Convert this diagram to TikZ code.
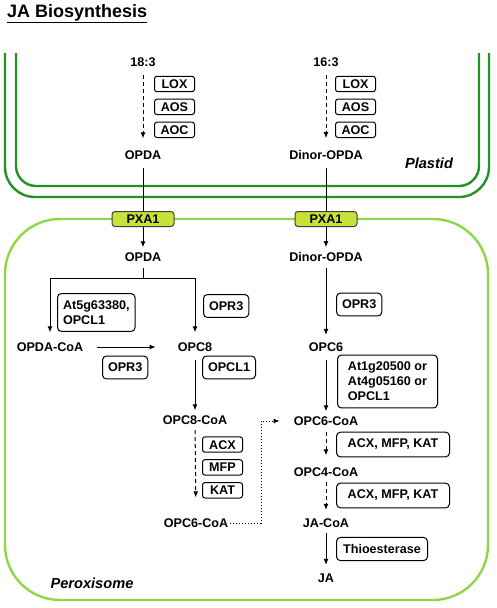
\documentclass[tikz,border=0pt]{standalone}
\usepackage{fontspec}
\setmainfont{Liberation Sans}
\usetikzlibrary{positioning,arrows.meta}
\definecolor{plastidgreen}{RGB}{36,146,36}
\definecolor{peroxgreen}{RGB}{143,214,72}
\definecolor{pxafill}{RGB}{200,226,58}
\begin{document}
\begin{tikzpicture}[x=1pt, y=-1pt,
		met/.style={font=\bfseries\fontsize{12.6}{15}\selectfont, inner sep=2pt},
		enzsmall/.style={met, draw, rounded corners=2.5pt, line width=1pt, minimum width=40pt, text height=9pt, text depth=0pt, inner ysep=3.2pt},
		enzbox/.style={met, draw, rounded corners=4pt, line width=1pt, inner xsep=5.5pt, inner ysep=7pt, align=left, anchor=west},
		pxa/.style={met, draw=black!75, fill=pxafill, rounded corners=3pt, line width=1pt, minimum width=62pt, minimum height=15pt, inner sep=0pt},
		place/.style={font=\bfseries\itshape\fontsize{14.6}{17}\selectfont},
		conv/.style={line width=1pt, -{Latex[length=6pt,width=5pt]}},
		multi/.style={conv, dash pattern=on 4pt off 3pt},
		xfer/.style={conv, dotted},
		membrane/.style={line width=2.4pt}]
	\useasboundingbox (0,0) rectangle (496,608);
	\node[font=\bfseries\fontsize{18}{20}\selectfont, anchor=base west, inner sep=0pt] (title) at (7,17) {\underline{JA Biosynthesis}};

	\draw[membrane, plastidgreen, rounded corners=30pt] (5,53) -- (5,197) -- (489,197) -- (489,53);
	\draw[membrane, plastidgreen, rounded corners=20pt] (16,53) -- (16,186) -- (479,186) -- (479,53);
	\draw[membrane, peroxgreen, rounded corners=55pt] (5,219) rectangle (488,600);
	\node[place] (plastid) at (429,163) {Plastid};
	\node[place] (perox) at (92,583) {Peroxisome};

	\node[met] (fa18) at (143,62) {18:3};
	\node[met] (fa16) at (326,62) {16:3};
	\node[enzsmall, anchor=west] (lox1) at (154,84) {LOX};
	\node[enzsmall, below=6.5pt of lox1] (aos1) {AOS};
	\node[enzsmall, below=6.5pt of aos1] (aoc1) {AOC};
	\node[enzsmall, anchor=west] (lox2) at (335,84) {LOX};
	\node[enzsmall, below=6.5pt of lox2] (aos2) {AOS};
	\node[enzsmall, below=6.5pt of aos2] (aoc2) {AOC};
	\node[met] (opdaP) at (143,155) {OPDA};
	\node[met] (dinorP) at (326,155) {Dinor-OPDA};

	\node[pxa] (pxaL) at (143,219) {PXA1};
	\node[pxa] (pxaR) at (326,219) {PXA1};

	\node[met] (opda) at (143,257) {OPDA};
	\node[met] (dinor) at (326,257) {Dinor-OPDA};
	\coordinate (fork) at (143,278);
	\node[met] (opdacoa) at (50,347) {OPDA-CoA};
	\node[met] (opc8) at (195,347) {OPC8};
	\node[met] (opc6) at (326,347) {OPC6};
	\node[met] (opc8coa) at (195,420) {OPC8-CoA};
	\node[met] (opc6coaL) at (196,523) {OPC6-CoA};
	\node[met] (opc6coa) at (326,421) {OPC6-CoA};
	\node[met] (opc4coa) at (326,472) {OPC4-CoA};
	\node[met] (jacoa) at (326,523) {JA-CoA};
	\node[met] (ja) at (326,578) {JA};
	\coordinate (jog) at (261,470);

	\node[enzbox] (opcl1a) at (57,312.5) {At5g63380,\\OPCL1};
	\node[enzbox] (opr3a) at (203,306) {OPR3};
	\node[enzbox] (opr3b) at (102,367.5) {OPR3};
	\node[enzbox] (opcl1b) at (202,367.5) {OPCL1};
	\node[enzsmall, anchor=west] (acx) at (202,444.5) {ACX};
	\node[enzsmall, below=6.5pt of acx] (mfp) {MFP};
	\node[enzsmall, below=6.5pt of mfp] (kat) {KAT};
	\node[enzbox] (opr3c) at (336,304.5) {OPR3};
	\node[enzbox, minimum width=100pt] (opcl1c) at (337,381.5) {At1g20500 or\\At4g05160 or\\OPCL1};
	\node[enzbox, minimum width=113pt, align=center] (beta1) at (336,444.5) {ACX, MFP, KAT};
	\node[enzbox, minimum width=113pt, align=center] (beta2) at (336,495.5) {ACX, MFP, KAT};
	\node[enzbox, minimum width=91pt, align=center] (thio) at (336,549) {Thioesterase};

	\draw[multi, shorten <=6pt, shorten >=10pt] (fa18) -- (opdaP);
	\draw[multi, shorten <=6pt, shorten >=10pt] (fa16) -- (dinorP);
	\draw[line width=1pt, shorten <=6pt] (opdaP) -- (pxaL);
	\draw[line width=1pt, shorten <=6pt] (dinorP) -- (pxaR);
	\draw[conv, shorten >=3pt] (pxaL) -- (opda);
	\draw[conv, shorten >=3pt] (pxaR) -- (dinor);
	\draw[line width=1pt, shorten <=4pt] (opda) -- (fork);
	\draw[conv, shorten >=8pt] (fork) -| (opdacoa);
	\draw[conv, shorten >=8pt] (fork) -| (opc8);
	\draw[conv, shorten <=12pt, shorten >=20pt] (opdacoa) -- (opc8);
	\draw[conv, shorten <=6pt, shorten >=3pt] (opc8) -- (opc8coa);
	\draw[multi, shorten <=3.5pt, shorten >=19pt] (opc8coa) -- (opc6coaL);
	\draw[xfer, shorten >=12pt] (opc6coaL) -- (jog |- opc6coaL) -- (jog |- opc6coa) -- (opc6coa);
	\draw[conv, shorten <=4pt, shorten >=5.5pt] (dinor) -- (opc6);
	\draw[conv, shorten <=6pt, shorten >=3pt] (opc6) -- (opc6coa);
	\draw[multi, shorten <=4.5pt, shorten >=10pt] (opc6coa) -- (opc4coa);
	\draw[multi, shorten <=3.5pt, shorten >=6.5pt] (opc4coa) -- (jacoa);
	\draw[conv, shorten <=3.5pt, shorten >=6.5pt] (jacoa) -- (ja);
\end{tikzpicture}
\end{document}
